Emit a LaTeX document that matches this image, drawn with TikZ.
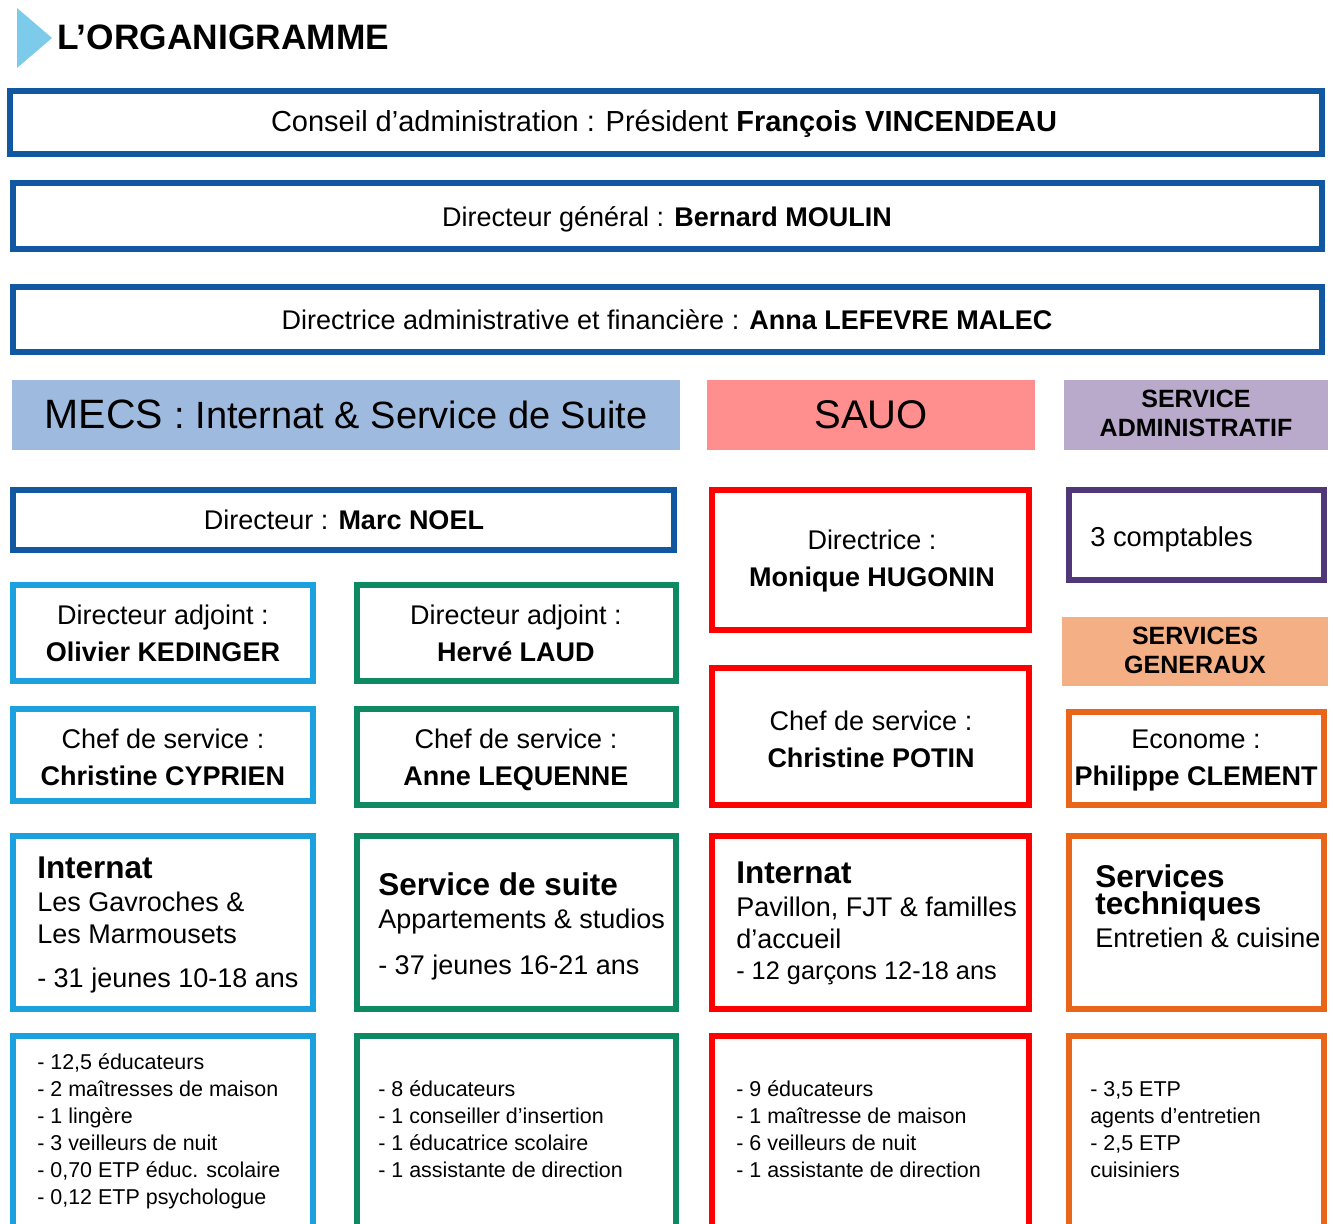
\documentclass[tikz,border=0pt]{standalone}
\usepackage{fontspec}
\setmainfont{Liberation Sans}

\definecolor{navy}{RGB}{18,88,160}
\definecolor{sky}{RGB}{27,161,222}
\definecolor{pine}{RGB}{14,138,98}
\definecolor{scarlet}{RGB}{255,0,0}
\definecolor{plum}{RGB}{80,56,120}
\definecolor{rust}{RGB}{232,101,26}
\definecolor{mecsfill}{RGB}{158,187,223}
\definecolor{sauofill}{RGB}{255,143,143}
\definecolor{adminfill}{RGB}{185,170,203}
\definecolor{genfill}{RGB}{244,175,132}
\definecolor{titleblue}{RGB}{124,203,235}

\begin{document}
\begin{tikzpicture}[x=0.75pt, y=-0.75pt,
	frame/.style={line width=4.5pt},
	txt/.style={inner sep=0pt, align=center, font=\fontsize{20.25}{27.75}\selectfont},
	bandtxt/.style={inner sep=0pt, align=center, font=\bfseries\fontsize{18.75}{21.75}\selectfont},
	head/.style={inner sep=0pt, anchor=base west, font=\bfseries\fontsize{23.6}{28}\selectfont},
	sub/.style={inner sep=0pt, anchor=base west, font=\fontsize{20.25}{24}\selectfont},
	item/.style={inner sep=0pt, anchor=base west, font=\fontsize{16.1}{20}\selectfont}]
	\useasboundingbox (0,0) rectangle (1333,1223);
	
	% title
	\fill[titleblue] (17,8) -- (52,38) -- (17,68) -- cycle;
	\node[anchor=base west, inner sep=0pt, font=\bfseries\fontsize{26.5}{30}\selectfont] (titre) at (57,50) {L’ORGANIGRAMME};
	
	% top boxes
	\draw[frame, navy] (10,91) rectangle (1322,154);
	\node[txt, anchor=base, font=\fontsize{21.75}{26}\selectfont] (conseil) at (664,132) {Conseil d’administration : Président \textbf{François VINCENDEAU}};
	\draw[frame, navy] (13,183) rectangle (1322,249);
	\node[txt, anchor=base] (dg) at (667,226) {Directeur général : \textbf{Bernard MOULIN}};
	\draw[frame, navy] (13,287) rectangle (1322,352);
	\node[txt, anchor=base] (daf) at (667,329) {Directrice administrative et financière : \textbf{Anna LEFEVRE MALEC}};
	
	% coloured bands
	\fill[mecsfill] (12,380) rectangle (680,450);
	\node[inner sep=0pt, anchor=base] (mecs) at (346,428) {\fontsize{30.75}{34}\selectfont MECS \fontsize{28.5}{34}\selectfont: Internat \& Service de Suite};
	\fill[sauofill] (707,380) rectangle (1035,450);
	\node[inner sep=0pt, anchor=base, font=\fontsize{30}{34}\selectfont] (sauo) at (871,428) {SAUO};
	\fill[adminfill] (1064,380) rectangle (1328,450);
	\node[bandtxt] (admin) at (1196,413) {SERVICE\\ADMINISTRATIF};
	\fill[genfill] (1062,617) rectangle (1328,686);
	\node[bandtxt] (generaux) at (1195,650) {SERVICES\\GENERAUX};
	
	% directors
	\draw[frame, navy] (13,490) rectangle (674,550);
	\node[txt, anchor=base] (dirmecs) at (344,529) {Directeur : \textbf{Marc NOEL}};
	\draw[frame, scarlet] (712,490) rectangle (1029,630);
	\node[txt] (dirsauo) at (872,561) {Directrice :\\\textbf{Monique HUGONIN}};
	\draw[frame, plum] (1069,490) rectangle (1324,580);
	\node[sub, font=\fontsize{20.5}{24}\selectfont] (compta) at (1090,546) {3 comptables};
	
	\draw[frame, sky] (13,585) rectangle (313,681);
	\node[txt] (adjoint-a) at (163,633) {Directeur adjoint :\\\textbf{Olivier KEDINGER}};
	\draw[frame, pine] (357,585) rectangle (676,681);
	\node[txt] (adjoint-b) at (516,633) {Directeur adjoint :\\\textbf{Hervé LAUD}};
	
	\draw[frame, scarlet] (712,668) rectangle (1029,805);
	\node[txt] (chef-sauo) at (871,739) {Chef de service :\\\textbf{Christine POTIN}};
	\draw[frame, sky] (13,709) rectangle (313,801);
	\node[txt] (chef-a) at (163,757) {Chef de service :\\\textbf{Christine CYPRIEN}};
	\draw[frame, pine] (357,709) rectangle (676,805);
	\node[txt] (chef-b) at (516,760) {Chef de service :\\\textbf{Anne LEQUENNE}};
	\draw[frame, rust] (1069,712) rectangle (1324,805);
	\node[txt] (econome) at (1196,761) {Econome :\\\textbf{Philippe CLEMENT}};
	
	% services and staff boxes
	\foreach \xa/\xb/\col in {13/313/sky, 357/676/pine, 712/1029/scarlet, 1069/1324/rust}{
		\draw[frame, \col] (\xa,836) rectangle (\xb,1009);
		\draw[frame, \col] (\xa,1036) rectangle (\xb,1240);
	}
	
	% internat mecs
	\node[head] (internat-a) at (37,878) {Internat};
	\node[sub] (gavroches) at (37,911) {Les Gavroches \&};
	\node[sub] (marmousets) at (37,943) {Les Marmousets};
	\node[sub] (jeunes-a) at (37,987) {- 31 jeunes 10-18 ans};
	
	% service de suite
	\node[head] (suite) at (378,895) {Service de suite};
	\node[sub] (studios) at (378,928) {Appartements \& studios};
	\node[sub] (jeunes-b) at (378,974) {- 37 jeunes 16-21 ans};
	
	% internat sauo
	\node[head] (internat-sauo) at (736,883) {Internat};
	\node[sub] (pavillon) at (736,916) {Pavillon, FJT \& familles};
	\node[sub] (accueil) at (736,948) {d'accueil};
	\node[sub, font=\fontsize{19}{24}\selectfont] (garcons) at (736,979) {- 12 garçons 12-18 ans};
	
	% services techniques
	\node[head, anchor=north west, align=left, font=\bfseries\fontsize{23.6}{20.5}\selectfont] (techniques) at (1095,864) {Services\\techniques};
	\node[sub] (entretien) at (1095,947) {Entretien \& cuisine};
	
	% staff lists
	\foreach \t [count=\i from 0] in {{- 12,5 éducateurs}, {- 2 maîtresses de maison}, {- 1 lingère}, {- 3 veilleurs de nuit}, {- 0,70 ETP éduc. scolaire}, {- 0,12 ETP psychologue}}{
		\node[item] (staff-a-\i) at (37,{1069+27*\i}) {\t};
	}
	\foreach \t [count=\i from 0] in {{- 8 éducateurs}, {- 1 conseiller d’insertion}, {- 1 éducatrice scolaire}, {- 1 assistante de direction}}{
		\node[item] (staff-b-\i) at (378,{1096+27*\i}) {\t};
	}
	\foreach \t [count=\i from 0] in {{- 9 éducateurs}, {- 1 maîtresse de maison}, {- 6 veilleurs de nuit}, {- 1 assistante de direction}}{
		\node[item] (staff-c-\i) at (736,{1096+27*\i}) {\t};
	}
	\foreach \t [count=\i from 0] in {{- 3,5 ETP}, {agents d’entretien}, {- 2,5 ETP}, {cuisiniers}}{
		\node[item] (staff-d-\i) at (1090,{1096+27*\i}) {\t};
	}
\end{tikzpicture}
\end{document}
